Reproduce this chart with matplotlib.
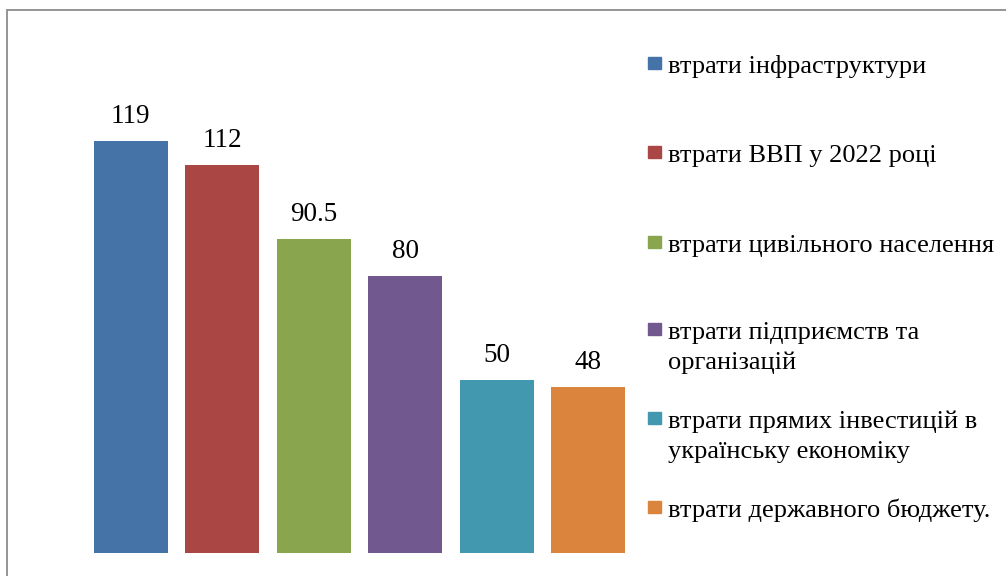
import matplotlib
matplotlib.use("Agg")
import matplotlib.pyplot as plt
from matplotlib.patches import Rectangle

plt.rcParams['font.family'] = ['Liberation Serif', 'DejaVu Serif']

# data
labels = [
    "втрати інфраструктури",
    "втрати ВВП у 2022 році",
    "втрати цивільного населення",
    "втрати підприємств та\nорганізацій",
    "втрати прямих інвестицій в\nукраїнську економіку",
    "втрати державного бюджету.",
]
values = [119, 112, 90.5, 80, 50, 48]
value_text = ["119", "112", "90.5", "80", "50", "48"]
colors = ["#4572A7", "#AA4643", "#89A54E", "#71588F", "#4198AF", "#DB843D"]

W, H = 1006, 576
fig = plt.figure(figsize=(W / 100, H / 100), dpi=100)
ax = fig.add_axes([85 / W, 23 / H, 549 / W, 485 / H])

x = range(len(values))
bars = ax.bar(x, values, width=0.81, color=colors)
for b, t in zip(bars, value_text):
    ax.annotate(t, (b.get_x() + b.get_width() / 2, b.get_height()),
                xytext=(0, 13), textcoords="offset points",
                ha="center", va="baseline", fontsize=19.5)

ax.set_xlim(-0.5, len(values) - 0.5)
ax.set_ylim(0, 140)
ax.axis("off")

# legend, placed like the original (baseline of first line, px from top)
legend_base = [73, 162, 252, 339, 428, 517]
line_gap = 30
for lab, c, yb in zip(labels, colors, legend_base):
    fig.add_artist(Rectangle((648 / W, 1 - (yb - 4) / H), 13 / W, 12 / H,
                             transform=fig.transFigure, color=c))
    for i, line in enumerate(lab.split("\n")):
        fig.text(668 / W, 1 - (yb + i * line_gap) / H, line, fontsize=19,
                 va="baseline", ha="left")

# chart border (partly cut off in the original)
fig.add_artist(Rectangle((7 / W, -0.1), 1.2, 1.1 - 10 / H,
                         transform=fig.transFigure, fill=False,
                         edgecolor="#8c8c8c", lw=1.3))

fig.savefig("out.png", dpi=100)
